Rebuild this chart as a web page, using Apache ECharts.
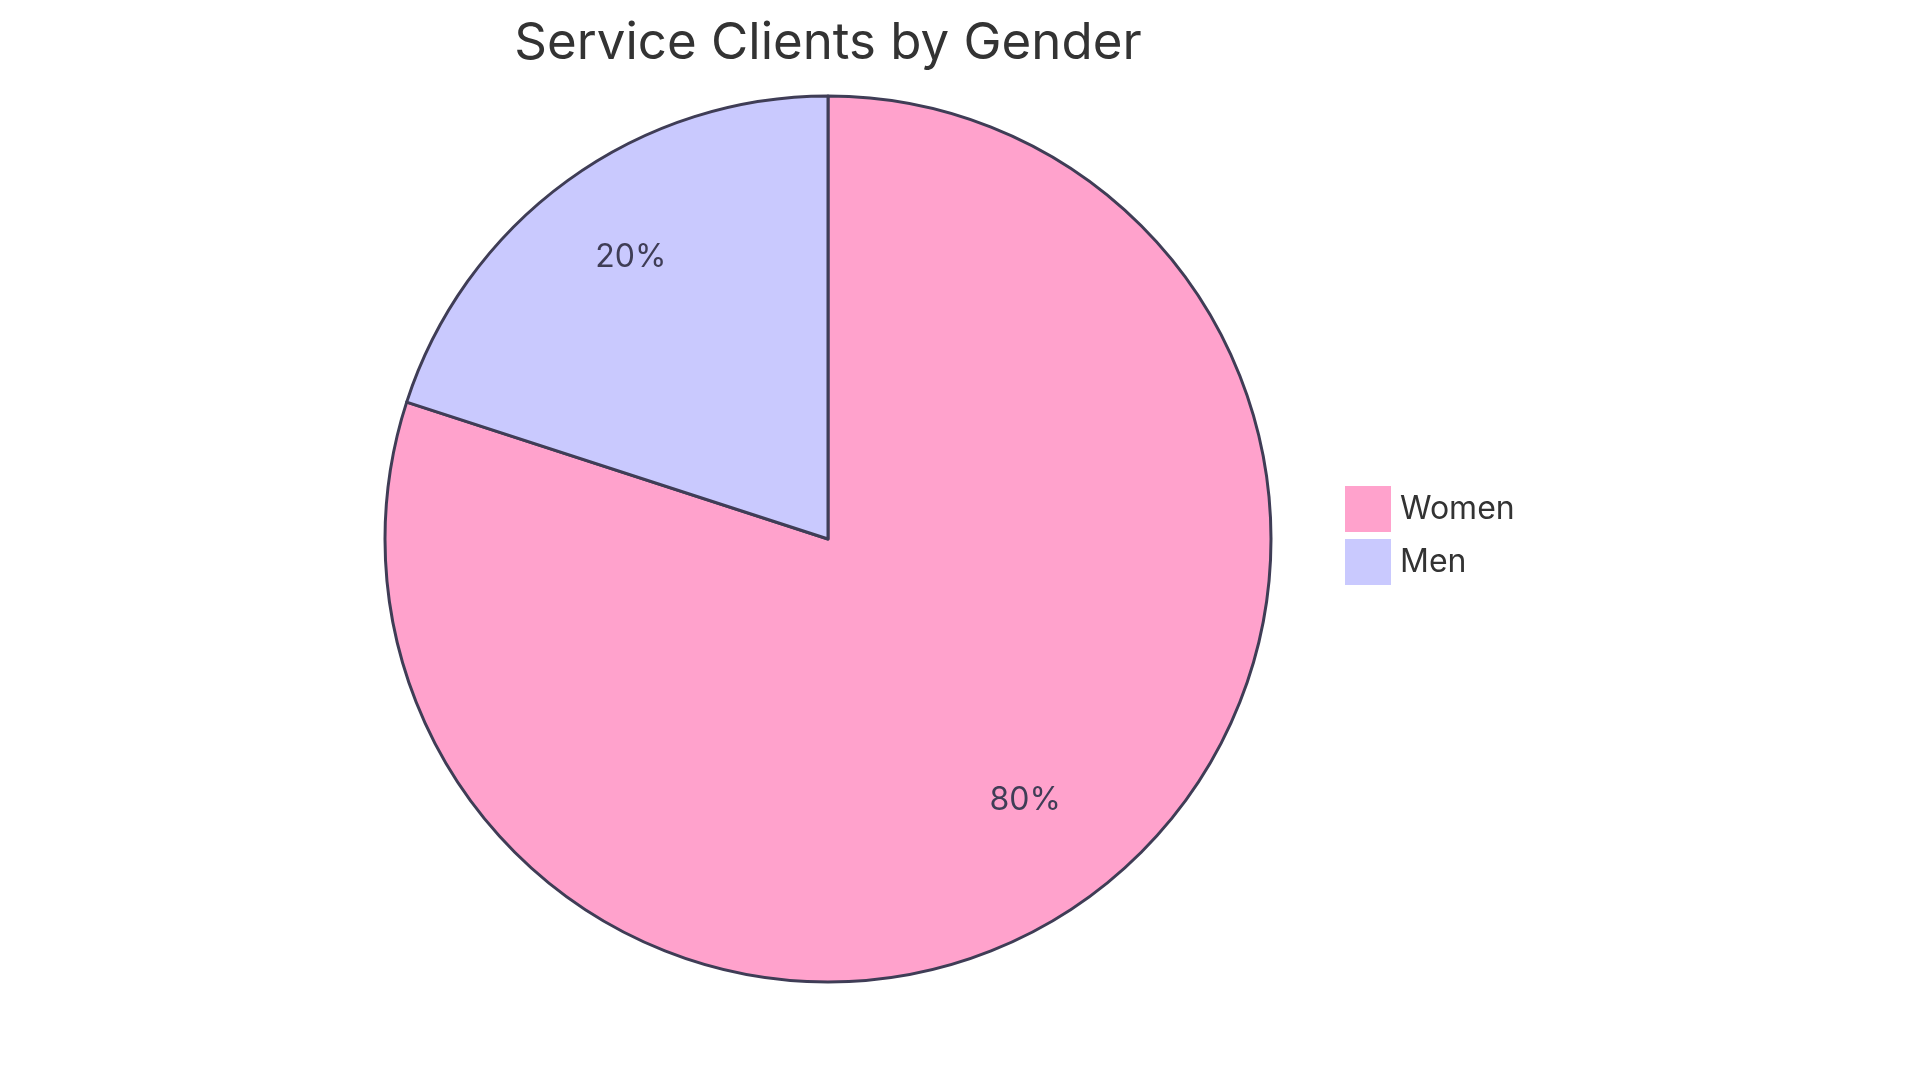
<!DOCTYPE html>
<html>
<head>
<meta charset="utf-8">
<script src="https://cdn.jsdelivr.net/npm/echarts@6/dist/echarts.min.js"></script>
<style>
html,body{margin:0;padding:0;background:#fff;}
#chart{width:1920px;height:1080px;}
</style>
</head>
<body>
<div id="chart"></div>
<script>
const titleText = "Service Clients by Gender";
const categories = ["Women", "Men"];
const values = [80, 20];
const colors = ["#FFA2CC", "#C9C9FE"];

const chart = echarts.init(document.getElementById('chart'));
const pieData = categories.map((c, i) => ({ name: c, value: values[i], itemStyle: { color: colors[i] } }));
const labelData = categories.map((c, i) => ({ name: c, value: values[i] }));

chart.setOption({
  backgroundColor: '#ffffff',
  title: {
    text: titleText,
    left: 828,
    textAlign: 'center',
    top: 18,
    padding: 0,
    textStyle: { fontFamily: 'Inter', fontWeight: 'normal', fontSize: 51, color: '#333333' }
  },
  legend: {
    orient: 'vertical',
    left: 1345,
    top: 486,
    padding: 0,
    itemWidth: 46,
    itemHeight: 46,
    itemGap: 7,
    icon: 'rect',
    data: categories,
    itemStyle: { borderWidth: 0 },
    textStyle: { fontFamily: 'Inter', fontSize: 32, color: '#333333', padding: [0, 0, 0, 4] }
  },
  series: [
    {
      type: 'pie',
      center: [828, 539],
      radius: [0, 443],
      startAngle: 90,
      clockwise: true,
      silent: true,
      animation: false,
      label: { show: false },
      labelLine: { show: false },
      itemStyle: { borderColor: '#3F3D56', borderWidth: 3 },
      data: pieData
    },
    {
      type: 'pie',
      center: [828, 539],
      radius: [222, 443],
      startAngle: 90,
      clockwise: true,
      silent: true,
      animation: false,
      itemStyle: { color: 'rgba(0,0,0,0)', borderWidth: 0 },
      label: {
        show: true,
        position: 'inside',
        offset: [0, -10],
        formatter: p => Math.round(p.percent) + '%',
        fontFamily: 'Inter',
        fontSize: 32,
        color: '#3F3D56'
      },
      labelLine: { show: false },
      data: labelData
    }
  ]
});
</script>
</body>
</html>
